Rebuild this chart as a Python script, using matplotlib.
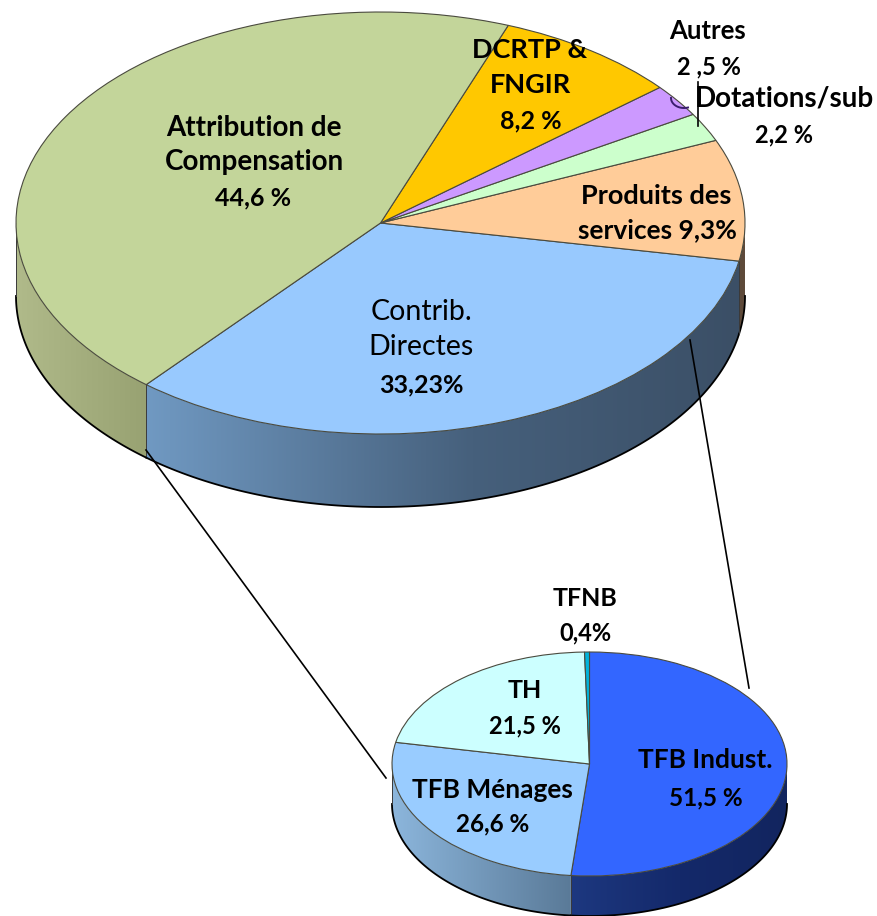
import numpy as np
import matplotlib
matplotlib.use("Agg")
import matplotlib.pyplot as plt
from matplotlib.colors import to_rgb
from matplotlib.patches import Polygon

# ---- data ----
main_labels = ["Contrib. Directes", "Produits des services", "Dotations/sub", "Autres", "DCRTP & FNGIR", "Attribution de Compensation"]
main_values = [33.23, 9.3, 2.2, 2.5, 8.2, 44.6]
sub_labels = ["TFB Indust.", "TFB Ménages", "TH", "TFNB"]
sub_values = [51.5, 26.6, 21.5, 0.4]

# ---- style ----
W, H = 877, 916
plt.rcParams['font.family'] = ['Lato', 'DejaVu Sans']
main_colors = ["#98C9FE", "#FFCC99", "#CCFFCC", "#CC99FF", "#FFC800", "#C3D59A"]
sub_colors = ["#3366FF", "#99CCFF", "#CCFFFF", "#00B4DC"]
main_walls = [[(0, "#7099C2"), (.55, "#46607C"), (1, "#3B4F66")], [(0, "#5E4A3A"), (1, "#5E4A3A")],
              None, None, None, [(0, "#B0BA8A"), (1, "#98A272")]]
sub_walls = [[(0, "#1D3880"), (.5, "#14296A"), (1, "#12255F")], [(0, "#8CB6DC"), (1, "#5A7A98")], None, None]


def gradient(stops, n=256):
    t = np.linspace(0, 1, n)
    fr = [s[0] for s in stops]
    rgb = np.array([to_rgb(s[1]) for s in stops])
    return np.stack([np.interp(t, fr, rgb[:, i]) for i in range(3)], axis=-1)[None, :, :]


def draw_pie(fig, values, colors, walls, cx, cy, rx, ry, depth, start, clockwise):
    ax = fig.add_axes([(cx - rx) / W, 1 - (cy + ry) / H, 2 * rx / W, 2 * ry / H])
    wedges, _ = ax.pie(values, colors=colors, startangle=start, counterclock=not clockwise, radius=1,
                       wedgeprops=dict(edgecolor="#4A4A3E", linewidth=0.8, clip_on=False, zorder=5))
    d = depth / ry
    for w, stops in zip(wedges, walls):
        if stops is None:
            continue
        a, b = w.theta1 % 360, w.theta2 % 360
        if b <= a:
            b += 360
        # visible (front) part of the wall
        lo, hi = max(a, 180), min(b, 360)
        if hi <= lo and b > 360:
            lo, hi = 180, b - 360
        th = np.radians(np.linspace(lo, hi, 120))
        x, y = np.cos(th), np.sin(th)
        poly = np.vstack([np.c_[x, y], np.c_[x[::-1], y[::-1] - d]])
        pg = Polygon(poly, closed=True, facecolor="none", edgecolor="none", transform=ax.transData)
        ax.add_patch(pg)
        pg.set_clip_on(False)
        im = ax.imshow(gradient(stops), extent=(x.min(), x.max(), -1 - d, 1), aspect="auto", zorder=2, interpolation="bilinear")
        im.set_clip_path(pg)
        im.set_clip_box(fig.bbox)
        ax.plot(x, y - d, color="black", lw=1.3, clip_on=False, zorder=3)
        ax.plot([x[0], x[0]], [y[0], y[0] - d], color="#3A3A3A", lw=0.7, clip_on=False, zorder=3)
    ax.set_xlim(-1, 1)
    ax.set_ylim(-1, 1)
    ax.set_aspect("auto")
    ax.axis("off")
    return ax


fig = plt.figure(figsize=(W / 100, H / 100), dpi=100, facecolor="white")
draw_pie(fig, main_values, main_colors, main_walls, 380.5, 223, 364.5, 211, 73, 230, False)
draw_pie(fig, sub_values, sub_colors, sub_walls, 589.5, 764, 197.5, 112, 40, 90, True)

ov = fig.add_axes([0, 0, 1, 1], zorder=10)
ov.set_xlim(0, W)
ov.set_ylim(H, 0)
ov.axis("off")
ov.patch.set_alpha(0)

# connectors and leader lines
ov.plot([146, 386], [450, 778], color="black", lw=1.2)
ov.plot([690, 749], [340, 688], color="black", lw=1.2)
ov.plot([698, 698], [82, 126], color="black", lw=1.2)
t = np.linspace(np.pi * 1.0, np.pi * 1.6, 20)
ov.plot(684 + 13 * np.cos(t), 98 - 10 * np.sin(t), color="#3A1E6E", lw=1.4)


def lab(x, y, s, weight="bold", size=20):
    ov.text(x, y, s, ha="center", va="baseline", fontsize=size, fontweight=weight, color="black")


lab(254, 136, "Attribution de")
lab(254, 170, "Compensation")
lab(253, 205, "44,6 %", size=18)
lab(530, 58, "DCRTP &", size=19.5)
lab(530, 93, "FNGIR", size=19.5)
lab(531, 128, "8,2 %", size=18)
lab(708, 39, "Autres", size=18.5)
lab(709, 74, "2 ,5 %", size=17)
lab(784, 107, "Dotations/sub")
lab(784, 142, "2,2 %", size=17)
lab(656, 204, "Produits des", size=19.5)
lab(657, 238, "services 9,3%", size=19)
lab(421, 320, "Contrib.", weight="normal", size=20.5)
lab(421, 355, "Directes", weight="normal", size=20.5)
lab(421, 392, "33,23%", size=18)
lab(585, 606, "TFNB", size=18)
lab(585, 640, "0,4%", size=17)
lab(525, 698, "TH", size=18)
lab(525, 733, "21,5 %", size=17)
lab(705, 768, "TFB Indust.", size=19)
lab(706, 805, "51,5 %", size=17.5)
lab(492, 798, "TFB Ménages", size=19)
lab(493, 831, "26,6 %", size=17.5)

fig.savefig("out.png", dpi=100)
